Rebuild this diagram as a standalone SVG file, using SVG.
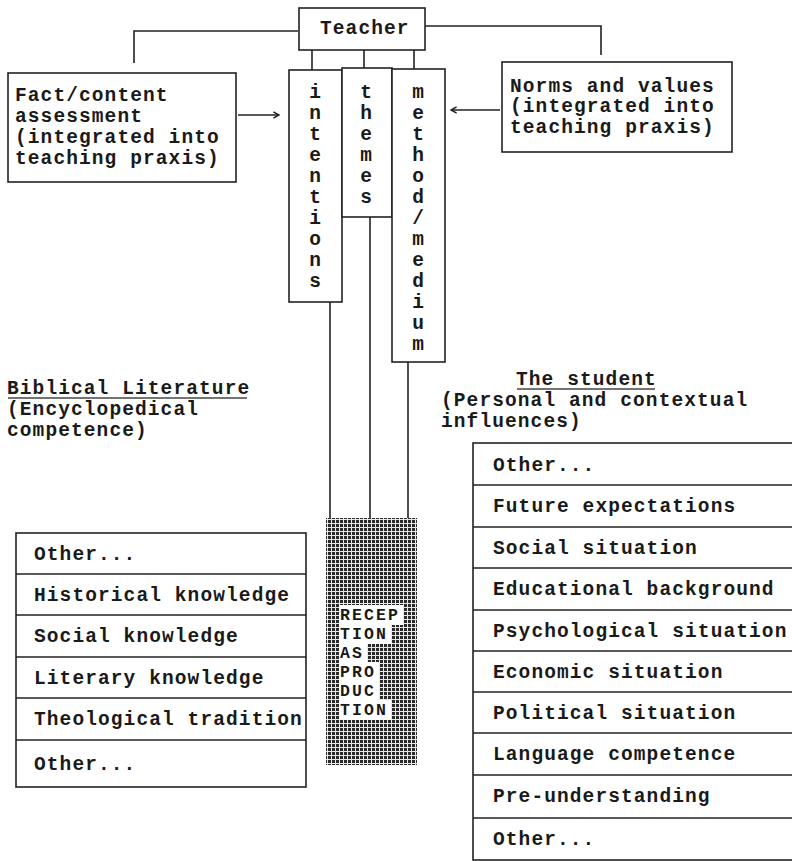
<svg xmlns="http://www.w3.org/2000/svg" width="792" height="861" viewBox="0 0 792 861">
<style>
  .t { font-family: "Liberation Mono", "Courier New", monospace; font-weight: bold; font-size: 19.5px; letter-spacing: 1.1px; fill: #1a1a1a; }
  .c { font-family: "Liberation Mono", "Courier New", monospace; font-weight: bold; font-size: 19.5px; fill: #1a1a1a; text-anchor: middle; }
  .h { font-family: "Liberation Mono", "Courier New", monospace; font-weight: bold; font-size: 16.5px; letter-spacing: 2.1px; fill: #1a1a1a; }
  .box { fill: #fff; stroke: #222; stroke-width: 1.6; }
  .ln { fill: none; stroke: #222; stroke-width: 1.6; }
  .ul { fill: none; stroke: #444; stroke-width: 1.6; }
</style>
<defs>
  <pattern id="hatch" width="4" height="4" patternUnits="userSpaceOnUse">
    <rect width="4" height="4" fill="#e8e8e8"/>
    <rect width="3" height="3" fill="#2a2a2a"/>
  </pattern>
  <marker id="chev" viewBox="0 0 10 10" refX="9" refY="5" markerWidth="8" markerHeight="8" orient="auto" markerUnits="userSpaceOnUse">
    <path d="M2,1 L9,5 L2,9" fill="none" stroke="#222" stroke-width="1.8"/>
  </marker>
</defs>
<rect width="792" height="861" fill="#fff"/>

<g id="connectors">
  <polyline class="ln" points="298,31 134,31 134,63"/>
  <polyline class="ln" points="425,26 601,26 601,55"/>
  <line class="ln" x1="312" y1="50" x2="312" y2="70"/>
  <line class="ln" x1="364" y1="50" x2="364" y2="68"/>
  <line class="ln" x1="414" y1="50" x2="414" y2="69"/>
  <line class="ln" x1="238" y1="115" x2="279" y2="115" marker-end="url(#chev)"/>
  <line class="ln" x1="500" y1="110" x2="451" y2="110" marker-end="url(#chev)"/>
  <line class="ln" x1="330" y1="302" x2="330" y2="518"/>
  <line class="ln" x1="370" y1="217" x2="370" y2="518"/>
  <line class="ln" x1="408" y1="362" x2="408" y2="518"/>
</g>

<g id="teacher">
  <rect class="box" x="299" y="8" width="126" height="42"/>
  <text class="t" x="320" y="34">Teacher</text>
</g>

<g id="fact">
  <rect class="box" x="8" y="73" width="228" height="109"/>
  <text class="t" x="15" y="101">Fact/content</text>
  <text class="t" x="15" y="122">assessment</text>
  <text class="t" x="15" y="143">(integrated into</text>
  <text class="t" x="15" y="164">teaching praxis)</text>
</g>

<g id="norms">
  <rect class="box" x="502" y="62" width="230" height="90"/>
  <text class="t" x="510" y="92">Norms and values</text>
  <text class="t" x="510" y="112">(integrated into</text>
  <text class="t" x="510" y="133">teaching praxis)</text>
</g>

<g id="intentions">
  <rect class="box" x="289" y="70" width="53" height="232"/>
  <text class="c" x="315" y="98">i</text>
  <text class="c" x="315" y="119">n</text>
  <text class="c" x="315" y="140">t</text>
  <text class="c" x="315" y="161">e</text>
  <text class="c" x="315" y="182">n</text>
  <text class="c" x="315" y="203">t</text>
  <text class="c" x="315" y="224">i</text>
  <text class="c" x="315" y="245">o</text>
  <text class="c" x="315" y="266">n</text>
  <text class="c" x="315" y="287">s</text>
</g>

<g id="themes">
  <rect class="box" x="342" y="68" width="50" height="149"/>
  <text class="c" x="366" y="98">t</text>
  <text class="c" x="366" y="119">h</text>
  <text class="c" x="366" y="140">e</text>
  <text class="c" x="366" y="161">m</text>
  <text class="c" x="366" y="182">e</text>
  <text class="c" x="366" y="203">s</text>
</g>

<g id="method">
  <rect class="box" x="392" y="69" width="53" height="293"/>
  <text class="c" x="418" y="98">m</text>
  <text class="c" x="418" y="119">e</text>
  <text class="c" x="418" y="140">t</text>
  <text class="c" x="418" y="161">h</text>
  <text class="c" x="418" y="182">o</text>
  <text class="c" x="418" y="203">d</text>
  <text class="c" x="418" y="224">/</text>
  <text class="c" x="418" y="245">m</text>
  <text class="c" x="418" y="266">e</text>
  <text class="c" x="418" y="287">d</text>
  <text class="c" x="418" y="308">i</text>
  <text class="c" x="418" y="329">u</text>
  <text class="c" x="418" y="350">m</text>
</g>

<g id="reception">
  <rect x="326" y="518" width="91" height="247" fill="url(#hatch)"/>
  <rect x="339" y="605" width="64" height="20" fill="#fff"/>
  <rect x="339" y="624" width="52" height="20" fill="#fff"/>
  <rect x="339" y="643" width="28" height="20" fill="#fff"/>
  <rect x="339" y="662" width="40" height="20" fill="#fff"/>
  <rect x="339" y="681" width="40" height="20" fill="#fff"/>
  <rect x="339" y="700" width="52" height="20" fill="#fff"/>
  <text class="h" x="340" y="620">RECEP</text>
  <text class="h" x="340" y="639">TION</text>
  <text class="h" x="340" y="658">AS</text>
  <text class="h" x="340" y="677">PRO</text>
  <text class="h" x="340" y="696">DUC</text>
  <text class="h" x="340" y="715">TION</text>
</g>

<g id="biblical-heading">
  <text class="t" x="7" y="394">Biblical Literature</text>
  <line class="ul" x1="8" y1="398" x2="247" y2="398"/>
  <text class="t" x="7" y="415">(Encyclopedical</text>
  <text class="t" x="7" y="436">competence)</text>
</g>

<g id="biblical-list">
  <rect class="box" x="16" y="533" width="290" height="254"/>
  <line class="ln" x1="16" y1="574" x2="306" y2="574"/>
  <line class="ln" x1="16" y1="615" x2="306" y2="615"/>
  <line class="ln" x1="16" y1="657" x2="306" y2="657"/>
  <line class="ln" x1="16" y1="698" x2="306" y2="698"/>
  <line class="ln" x1="16" y1="740" x2="306" y2="740"/>
  <text class="t" x="34" y="560">Other...</text>
  <text class="t" x="34" y="601">Historical knowledge</text>
  <text class="t" x="34" y="642">Social knowledge</text>
  <text class="t" x="34" y="684">Literary knowledge</text>
  <text class="t" x="34" y="725">Theological tradition</text>
  <text class="t" x="34" y="770">Other...</text>
</g>

<g id="student-heading">
  <text class="t" x="516" y="385">The student</text>
  <line class="ul" x1="517" y1="389" x2="655" y2="389"/>
  <text class="t" x="441" y="406">(Personal and contextual</text>
  <text class="t" x="441" y="427">influences)</text>
</g>

<g id="student-list">
  <rect class="box" x="473" y="443" width="330" height="417"/>
  <line class="ln" x1="473" y1="485" x2="792" y2="485"/>
  <line class="ln" x1="473" y1="527" x2="792" y2="527"/>
  <line class="ln" x1="473" y1="568" x2="792" y2="568"/>
  <line class="ln" x1="473" y1="610" x2="792" y2="610"/>
  <line class="ln" x1="473" y1="651" x2="792" y2="651"/>
  <line class="ln" x1="473" y1="692" x2="792" y2="692"/>
  <line class="ln" x1="473" y1="733" x2="792" y2="733"/>
  <line class="ln" x1="473" y1="775" x2="792" y2="775"/>
  <line class="ln" x1="473" y1="818" x2="792" y2="818"/>
  <text class="t" x="493" y="471">Other...</text>
  <text class="t" x="493" y="512">Future expectations</text>
  <text class="t" x="493" y="554">Social situation</text>
  <text class="t" x="493" y="595">Educational background</text>
  <text class="t" x="493" y="637">Psychological situation</text>
  <text class="t" x="493" y="678">Economic situation</text>
  <text class="t" x="493" y="719">Political situation</text>
  <text class="t" x="493" y="760">Language competence</text>
  <text class="t" x="493" y="802">Pre-understanding</text>
  <text class="t" x="493" y="845">Other...</text>
</g>
</svg>
